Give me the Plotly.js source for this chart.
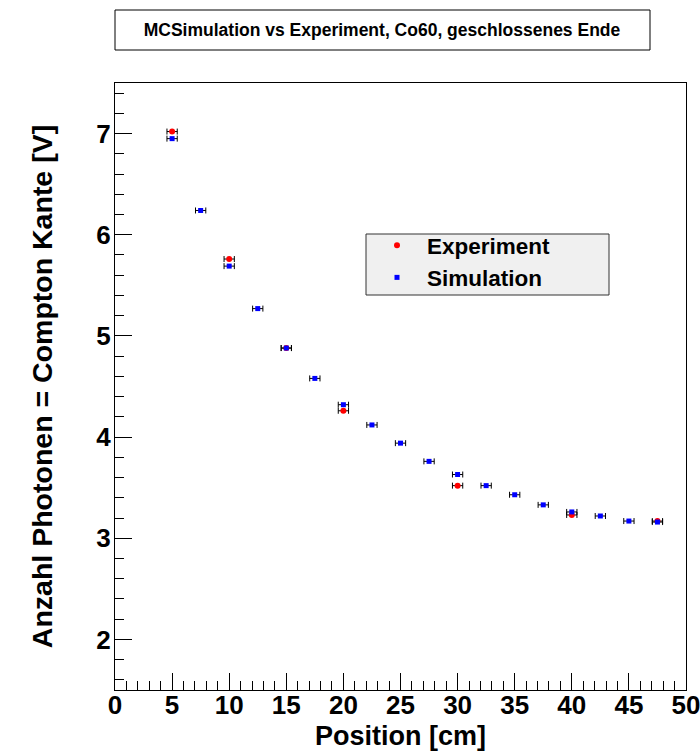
<!DOCTYPE html>
<html>
<head>
<meta charset="utf-8">
<script src="https://cdn.plot.ly/plotly-3.0.1.min.js"></script>
<style>html,body{margin:0;padding:0;background:#fff;}</style>
</head>
<body>
<div id="chart" style="width:700px;height:751px;"></div>
<script>
// Data
const expPosition = [5, 10, 15, 20, 30, 40, 47.5];
const expVoltage  = [7.02, 5.76, 4.88, 4.26, 3.52, 3.23, 3.17];

const simPosition = [5, 7.5, 10, 12.5, 15, 17.5, 20, 22.5, 25, 27.5, 30, 32.5, 35, 37.5, 40, 42.5, 45, 47.5];
const simVoltage  = [6.95, 6.24, 5.69, 5.27, 4.88, 4.58, 4.32, 4.12, 3.94, 3.76, 3.63, 3.52, 3.43, 3.33, 3.26, 3.22, 3.17, 3.16];

const positionError = 0.45;

const xTickValues = [0, 5, 10, 15, 20, 25, 30, 35, 40, 45, 50];
const yTickValues = [2, 3, 4, 5, 6, 7];

const FONT = 'Liberation Sans, Arial, Helvetica, sans-serif';

const errStyle = {type: 'constant', value: positionError, color: '#000000', thickness: 1, width: 3};

const traces = [
  {
    x: expPosition, y: expVoltage, name: 'Experiment',
    type: 'scatter', mode: 'markers',
    marker: {color: '#ff0000', symbol: 'circle', size: 6},
    error_x: errStyle,
    legendgroup: 'a'
  },
  {
    x: simPosition, y: simVoltage, name: 'Simulation',
    type: 'scatter', mode: 'markers',
    marker: {color: '#0000ff', symbol: 'square', size: 5},
    error_x: errStyle,
    legendgroup: 'b'
  }
];

const axisCommon = {
  showgrid: false, zeroline: false,
  showline: true, linecolor: '#000000', linewidth: 1, mirror: true,
  ticks: 'inside', ticklen: 17, tickcolor: '#000000', tickwidth: 1,
  ticklabeloverflow: 'allow',
  tickfont: {family: FONT, size: 26, color: '#000000', weight: 'bold'}
};

const layout = {
  width: 700, height: 751,
  margin: {l: 115, r: 14, t: 83, b: 61},
  paper_bgcolor: '#ffffff', plot_bgcolor: '#ffffff',
  showlegend: true,
  title: {
    text: 'MCSimulation vs Experiment, Co60, geschlossenes Ende',
    font: {family: FONT, size: 17.5, color: '#000000', weight: 'bold'},
    x: (382 - 115) / 571, xanchor: 'center', xref: 'paper',
    y: 1 - 30 / 751, yanchor: 'middle', yref: 'container'
  },
  xaxis: Object.assign({}, axisCommon, {
    range: [0, 50],
    tickmode: 'array', tickvals: xTickValues, ticktext: xTickValues.map(String),
    ticklabelstandoff: -8,
    minor: {dtick: 1, ticklen: 9, ticks: 'inside', tickcolor: '#000000', tickwidth: 1, showgrid: false},
    title: {text: 'Position [cm]', font: {family: FONT, size: 27, color: '#000000', weight: 'bold'}, standoff: 6}
  }),
  yaxis: Object.assign({}, axisCommon, {
    range: [1.5, 7.5],
    tickmode: 'array', tickvals: yTickValues, ticktext: yTickValues.map(String),
    ticklabelstandoff: -2,
    minor: {dtick: 0.2, ticklen: 9, ticks: 'inside', tickcolor: '#000000', tickwidth: 1, showgrid: false},
    title: {text: 'Anzahl Photonen = Compton Kante [V]', font: {family: FONT, size: 28.5, color: '#000000', weight: 'bold'}, standoff: 35}
  }),
  legend: {
    x: (367 - 115) / 571, y: (690 - 224) / 607, xanchor: 'left', yanchor: 'top',
    bgcolor: 'rgba(0,0,0,0)', borderwidth: 0,
    itemwidth: 50,
    font: {family: FONT, size: 22.5, color: '#000000', weight: 'bold'},
    tracegroupgap: 10, traceorder: 'normal'
  },
  shapes: [
    {type: 'rect', xref: 'paper', yref: 'paper',
     x0: 0, x1: (650 - 115) / 571, y0: (690 - 50) / 607, y1: (690 - 10) / 607,
     line: {color: '#000000', width: 1}, fillcolor: '#ffffff', layer: 'above'},
    {type: 'rect', xref: 'paper', yref: 'paper',
     x0: (366 - 115) / 571, x1: (609 - 115) / 571, y0: (690 - 295) / 607, y1: (690 - 234) / 607,
     line: {color: '#333333', width: 1}, fillcolor: '#f0f0f0', layer: 'above'}
  ]
};

Plotly.newPlot('chart', traces, layout, {displayModeBar: false, staticPlot: true});
</script>
</body>
</html>
